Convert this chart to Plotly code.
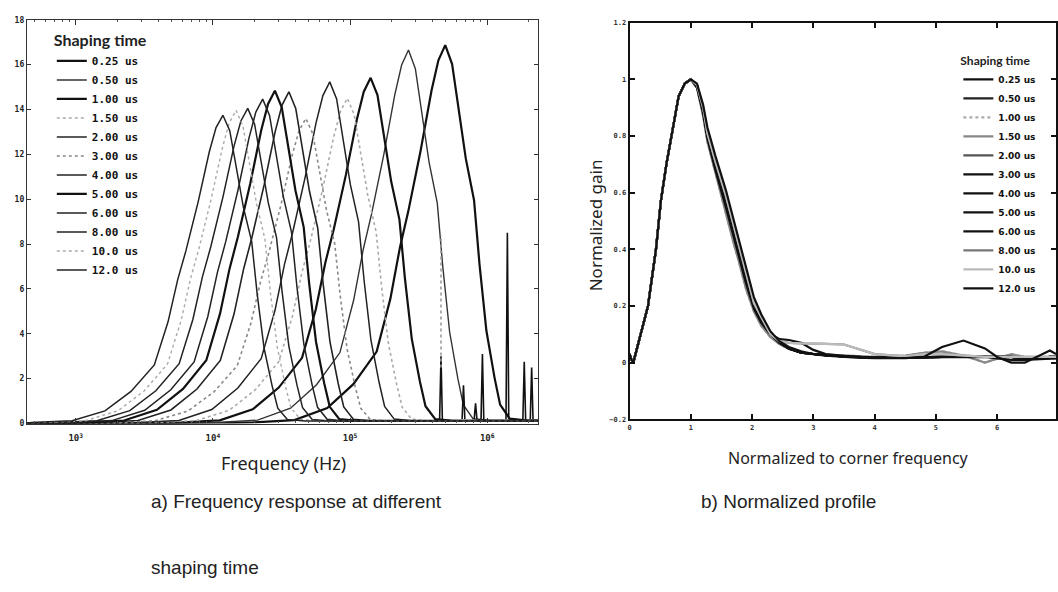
import plotly.graph_objects as go

# ---------------- data ----------------
shaping = ["0.25 us", "0.50 us", "1.00 us", "1.50 us", "2.00 us", "3.00 us",
           "4.00 us", "5.00 us", "6.00 us", "8.00 us", "10.0 us", "12.0 us"]

# left panel: peak position (log10 Hz) and peak height
peak_logf = [5.694, 5.426, 5.150, 4.980, 4.852, 4.678, 4.554, 4.452, 4.363, 4.254, 4.169, 4.073]
peak_val = [16.87, 16.65, 15.41, 14.5, 15.23, 13.6, 14.79, 14.84, 14.46, 14.05, 13.96, 13.74]

# common measured response shape (offset in decades from peak, fraction of peak)
shape_off = [-3.2, -1.75, -1.40, -1.10, -0.86, -0.67, -0.50, -0.40, -0.33, -0.27, -0.18,
             -0.10, -0.05, 0.0, 0.05, 0.10, 0.15, 0.21, 0.25, 0.30, 0.36, 0.40, 0.47, 0.60, 2.4]
shape_frac = [0.0, 0.0, 0.003, 0.009, 0.041, 0.104, 0.19, 0.33, 0.466, 0.56, 0.72,
              0.88, 0.96, 1.0, 0.95, 0.82, 0.70, 0.59, 0.42, 0.245, 0.12, 0.05, 0.013, 0.008, 0.008]

# interference spikes at high frequency (log10 Hz, height)
spike_logf = [5.663, 5.827, 5.915, 5.965, 6.147, 6.270, 6.324]
spike_val = [3.0, 1.7, 0.9, 3.1, 8.5, 2.75, 2.5]
gray_spike_logf = [5.663]
gray_spike_val = [8.4]

# right panel: normalized profiles (x = f / f_corner)
norm_x = [0, 0.03, 0.06, 0.13, 0.2, 0.3, 0.43, 0.51, 0.6, 0.68, 0.8, 0.9, 1.0, 1.1, 1.2,
          1.27, 1.4, 1.57, 1.7, 1.78, 1.9, 2.03, 2.15, 2.3, 2.45, 2.6, 2.8, 3.0, 3.2, 3.5,
          3.7, 4.0, 4.5, 4.8, 5.1, 5.45, 5.8, 6.0, 6.23, 6.45, 6.7, 6.86, 6.96]
norm_base = [0.03, 0.01, 0.0, 0.06, 0.11, 0.2, 0.4, 0.57, 0.7, 0.8, 0.94, 0.985, 1.0, 0.98, 0.89,
             0.8, 0.7, 0.57, 0.46, 0.4, 0.29, 0.2, 0.15, 0.1, 0.07, 0.05, 0.035, 0.03, 0.026, 0.022,
             0.02, 0.018, 0.018, 0.02, 0.02, 0.02, 0.02, 0.02, 0.02, 0.015, 0.015, 0.02, 0.02]
norm_wide_bump = [0.03, 0.01, 0.0, 0.06, 0.11, 0.2, 0.4, 0.57, 0.7, 0.8, 0.94, 0.985, 1.0, 0.985, 0.91,
                  0.83, 0.73, 0.61, 0.5, 0.44, 0.33, 0.23, 0.17, 0.11, 0.075, 0.055, 0.04, 0.03, 0.025, 0.02,
                  0.018, 0.016, 0.016, 0.02, 0.055, 0.078, 0.05, 0.02, 0.0, 0.0, 0.025, 0.043, 0.03]
norm_gray_hump = [0.03, 0.01, 0.0, 0.06, 0.11, 0.2, 0.4, 0.57, 0.7, 0.8, 0.94, 0.985, 1.0, 0.98, 0.9,
                  0.81, 0.71, 0.59, 0.48, 0.42, 0.31, 0.21, 0.16, 0.1, 0.075, 0.07, 0.068, 0.066, 0.066, 0.064,
                  0.05, 0.03, 0.022, 0.03, 0.03, 0.025, 0.02, 0.02, 0.02, 0.02, 0.02, 0.02, 0.02]
norm_early_bump = [0.03, 0.01, 0.0, 0.06, 0.11, 0.2, 0.4, 0.57, 0.7, 0.8, 0.94, 0.985, 1.0, 0.97, 0.88,
                   0.79, 0.68, 0.55, 0.44, 0.38, 0.28, 0.19, 0.14, 0.1, 0.083, 0.08, 0.07, 0.045, 0.03, 0.024,
                   0.02, 0.018, 0.018, 0.018, 0.018, 0.02, 0.02, 0.015, 0.01, 0.01, 0.012, 0.015, 0.015]
norm_small_bumps = [0.03, 0.01, 0.0, 0.06, 0.11, 0.2, 0.4, 0.57, 0.7, 0.8, 0.94, 0.985, 1.0, 0.97, 0.87,
                    0.78, 0.67, 0.53, 0.42, 0.36, 0.26, 0.18, 0.13, 0.09, 0.065, 0.048, 0.035, 0.03, 0.028, 0.025,
                    0.022, 0.02, 0.025, 0.035, 0.04, 0.025, 0.0, 0.015, 0.03, 0.02, 0.015, 0.015, 0.015]
norm_series = [norm_base, norm_base, norm_small_bumps, norm_small_bumps, norm_base, norm_base,
               norm_base, norm_base, norm_early_bump, norm_gray_hump, norm_gray_hump, norm_wide_bump]

# ---------------- styles ----------------
left_color = ["#111", "#333", "#111", "#aaa", "#222", "#888", "#222", "#111", "#222", "#222", "#aaa", "#222"]
left_dash = ["solid", "solid", "solid", "dot", "solid", "dot", "solid", "solid", "solid", "solid", "dot", "solid"]
left_width = [2.2, 1.4, 2.2, 1.6, 1.5, 1.6, 1.6, 2.2, 1.5, 1.5, 1.4, 1.5]
right_color = ["#111", "#222", "#aaa", "#888", "#555", "#111", "#111", "#111", "#111", "#777", "#bbb", "#111"]
right_dash = ["solid", "solid", "dot", "solid", "solid", "solid", "solid", "solid", "solid", "solid", "solid", "solid"]

W, H = 1058, 592
fig = go.Figure()

for i, name in enumerate(shaping):
    xs = [10 ** (peak_logf[i] + o) for o in shape_off]
    ys = [peak_val[i] * f for f in shape_frac]
    fig.add_trace(go.Scatter(x=xs, y=ys, mode="lines", name=name, legend="legend",
                             line=dict(color=left_color[i], dash=left_dash[i], width=left_width[i]),
                             xaxis="x", yaxis="y"))

sx, sy = [], []
for lf, v in zip(spike_logf, spike_val):
    sx += [10 ** (lf - 0.01), 10 ** lf, 10 ** (lf + 0.01), None]
    sy += [0.2, v, 0.2, None]
fig.add_trace(go.Scatter(x=sx, y=sy, mode="lines", showlegend=False,
                         line=dict(color="#111", width=1.6), xaxis="x", yaxis="y"))
gx, gy = [], []
for lf, v in zip(gray_spike_logf, gray_spike_val):
    gx += [10 ** lf, 10 ** lf, None]
    gy += [2.5, v, None]
fig.add_trace(go.Scatter(x=gx, y=gy, mode="lines", showlegend=False,
                         line=dict(color="#999", width=1.6, dash="dot"), xaxis="x", yaxis="y"))

for i, name in enumerate(shaping):
    fig.add_trace(go.Scatter(x=norm_x, y=norm_series[i], mode="lines", name=name, legend="legend2",
                             line=dict(color=right_color[i], dash=right_dash[i], width=2.2),
                             xaxis="x2", yaxis="y2"))

tickf = dict(family="DejaVu Sans Mono", size=8, color="#222", weight="bold")
tickfx = dict(family="DejaVu Sans Mono", size=9, color="#222", weight="bold")
tickf2 = dict(family="DejaVu Sans Mono", size=7, color="#333", weight="bold")

def px_x(p):
    return p / W

def px_y(p):
    return 1 - p / H

fig.update_layout(
    width=W, height=H, margin=dict(l=0, r=0, t=0, b=0),
    paper_bgcolor="white", plot_bgcolor="white",
    xaxis=dict(type="log", range=[2.644, 6.37], domain=[px_x(25), px_x(538)], anchor="y",
               showline=True, mirror="ticks", linecolor="#333", linewidth=1.2,
               ticks="inside", ticklen=5, tickcolor="#333", ticklabelstandoff=6,
               tickvals=[1e3, 1e4, 1e5, 1e6],
               ticktext=["10<sup>3</sup>", "10<sup>4</sup>", "10<sup>5</sup>", "10<sup>6</sup>"],
               tickfont=tickfx, showgrid=False, zeroline=False,
               minor=dict(ticks="inside", ticklen=2, dtick="D1", tickcolor="#555", showgrid=False)),
    yaxis=dict(range=[0, 18], domain=[px_y(426), px_y(16)], anchor="x", dtick=2,
               showline=True, mirror="ticks", linecolor="#333", linewidth=1.2,
               ticks="inside", ticklen=4, tickcolor="#333", tickfont=tickf,
               showgrid=False, zeroline=False),
    xaxis2=dict(range=[0, 6.96], domain=[px_x(630), 1.0], anchor="y2", dtick=1,
                showline=True, mirror="ticks", linecolor="#111", linewidth=2,
                ticks="inside", ticklen=5, tickwidth=2, tickcolor="#111", tickfont=tickf2,
                showgrid=False, zeroline=False),
    yaxis2=dict(range=[-0.2, 1.2], domain=[px_y(421.7), px_y(19)], anchor="x2", dtick=0.2,
                showline=True, mirror="ticks", linecolor="#111", linewidth=2,
                ticks="inside", ticklen=5, tickwidth=2, tickcolor="#111", tickfont=tickf2,
                showgrid=False, zeroline=False),
    legend=dict(x=px_x(50), y=px_y(22), xanchor="left", yanchor="top",
                bgcolor="rgba(0,0,0,0)", borderwidth=0,
                title=dict(text="Shaping time", font=dict(family="Lato", size=16, color="#222")),
                font=dict(family="DejaVu Sans Mono", size=11, color="#111", weight="bold"),
                tracegroupgap=0),
    legend2=dict(x=px_x(960), y=px_y(46), xanchor="left", yanchor="top",
                 bgcolor="rgba(0,0,0,0)", borderwidth=0,
                 title=dict(text="Shaping time", font=dict(family="Lato", size=12, color="#222")),
                 font=dict(family="DejaVu Sans", size=9, color="#111", weight="bold"),
                 tracegroupgap=0),
)

ann = [
    dict(text="Frequency (Hz)", x=px_x(283), y=px_y(466), font=dict(family="Noto Sans", size=18, color="#222")),
    dict(text="Normalized to corner frequency", x=px_x(850), y=px_y(461), font=dict(family="Noto Sans", size=16, color="#222")),
    dict(text="Normalized gain", x=px_x(596), y=px_y(225), textangle=-90, font=dict(family="Noto Sans", size=17, color="#222")),
    dict(text="a) Frequency response at different", x=px_x(148), y=px_y(505), xanchor="left",
         font=dict(family="Liberation Sans", size=19, color="#222")),
    dict(text="shaping time", x=px_x(148), y=px_y(572), xanchor="left",
         font=dict(family="Liberation Sans", size=19, color="#222")),
    dict(text="b) Normalized profile", x=px_x(700), y=px_y(505), xanchor="left",
         font=dict(family="Liberation Sans", size=19, color="#222")),
]
for a in ann:
    a.setdefault("xanchor", "center")
    fig.add_annotation(xref="paper", yref="paper", showarrow=False, yanchor="middle", **a)

fig.write_html("out.html")
